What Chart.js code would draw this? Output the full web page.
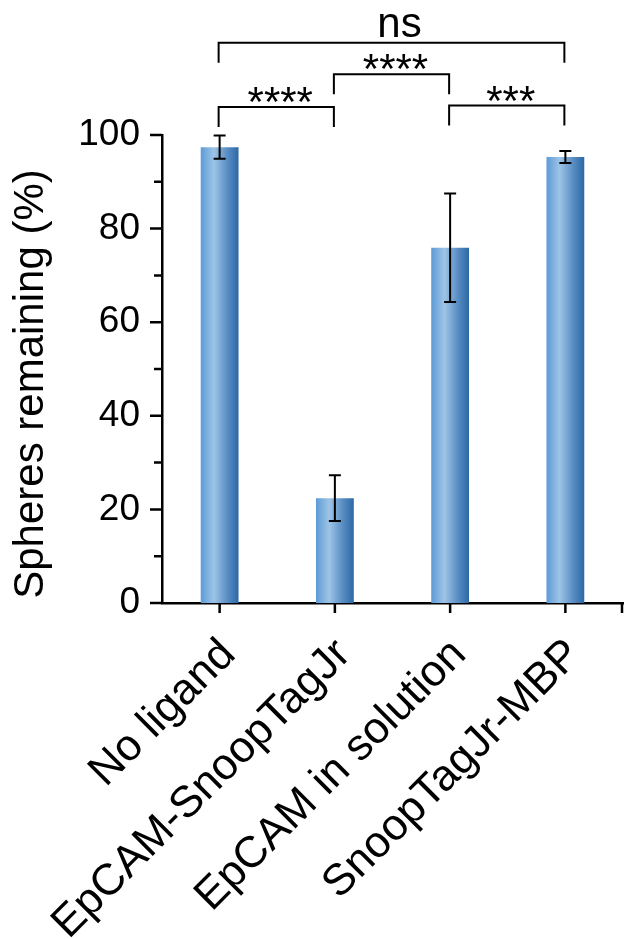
<!DOCTYPE html>
<html>
<head>
<meta charset="utf-8">
<script src="https://cdn.jsdelivr.net/npm/chart.js@4.4.1/dist/chart.umd.min.js"></script>
<style>
body{margin:0;background:#fff;}
#wrap{width:625px;height:939px;position:relative;}
</style>
</head>
<body>
<div id="wrap"><canvas id="myChart"></canvas></div>
<script>
// datos
var categorias = ["No ligand", "EpCAM-SnoopTagJr", "EpCAM in solution", "SnoopTagJr-MBP"];
var medias = [97.4, 22.4, 75.9, 95.3];
var errores = [2.5, 4.9, 11.6, 1.3];
var yTicks = [0, 20, 40, 60, 80, 100];
var yMinor = [10, 30, 50, 70, 90];
var tituloY = "Spheres remaining (%)";
// brackets de significancia
var bracketDesde = [0, 1, 2, 0];
var bracketHasta = [1, 2, 3, 3];
var bracketNivel = [106.0, 113.0, 106.3, 119.7];
var bracketTexto = ["****", "****", "***", "ns"];

var fuente = "'Liberation Sans', Arial, sans-serif";

function gradiente(context){
    var chart = context.chart;
    var x = chart.scales.x;
    if (!chart.chartArea || !x || context.dataIndex === undefined) {
        return '#5b9bd5';
    }
    var centro = x.getPixelForValue(context.dataIndex);
    var ancho = (x.width / categorias.length) * 0.328;
    var g = chart.ctx.createLinearGradient(centro - ancho / 2, 0, centro + ancho / 2, 0);
    g.addColorStop(0, 'rgb(93,155,214)');
    g.addColorStop(0.35, 'rgb(158,196,230)');
    g.addColorStop(0.7, 'rgb(90,142,196)');
    g.addColorStop(1, 'rgb(44,104,164)');
    return g;
}

var extras = {
    id: 'extras',
    afterDraw: function(chart){
        var ctx = chart.ctx;
        var x = chart.scales.x;
        var y = chart.scales.y;
        var area = chart.chartArea;
        ctx.save();
        ctx.strokeStyle = '#000';
        ctx.lineCap = 'butt';

        // barras de error
        ctx.lineWidth = 2;
        for (var i = 0; i < medias.length; i++){
            var px = x.getPixelForValue(i);
            var arriba = y.getPixelForValue(medias[i] + errores[i]);
            var abajo = y.getPixelForValue(medias[i] - errores[i]);
            ctx.beginPath();
            ctx.moveTo(px, arriba); ctx.lineTo(px, abajo);
            ctx.moveTo(px - 6, arriba); ctx.lineTo(px + 6, arriba);
            ctx.moveTo(px - 6, abajo); ctx.lineTo(px + 6, abajo);
            ctx.stroke();
        }

        // ticks del eje y
        ctx.lineWidth = 2.5;
        ctx.beginPath();
        for (var a = 0; a < yTicks.length; a++){
            var py = y.getPixelForValue(yTicks[a]);
            ctx.moveTo(area.left - 12, py); ctx.lineTo(area.left, py);
        }
        for (var b = 0; b < yMinor.length; b++){
            var pm = y.getPixelForValue(yMinor[b]);
            ctx.moveTo(area.left - 8, pm); ctx.lineTo(area.left, pm);
        }
        // ticks del eje x
        for (var c = 0; c < categorias.length; c++){
            var pc = x.getPixelForValue(c);
            ctx.moveTo(pc, area.bottom); ctx.lineTo(pc, area.bottom + 10);
        }
        ctx.moveTo(area.right - 1, area.bottom); ctx.lineTo(area.right - 1, area.bottom + 10);
        ctx.stroke();

        // brackets
        ctx.lineWidth = 2;
        ctx.fillStyle = '#000';
        ctx.textAlign = 'center';
        ctx.textBaseline = 'alphabetic';
        for (var k = 0; k < bracketNivel.length; k++){
            var x1 = x.getPixelForValue(bracketDesde[k]) - 1;
            var x2 = x.getPixelForValue(bracketHasta[k]) - 1;
            var yl = y.getPixelForValue(bracketNivel[k]);
            ctx.beginPath();
            ctx.moveTo(x1, yl + 20); ctx.lineTo(x1, yl); ctx.lineTo(x2, yl); ctx.lineTo(x2, yl + 20);
            ctx.stroke();
            ctx.font = '42px ' + fuente;
            if (bracketTexto[k] == 'ns'){
                ctx.fillText(bracketTexto[k], (x1 + x2) / 2 + 8, yl - 6);
            } else {
                ctx.fillText(bracketTexto[k], (x1 + x2) / 2 + 4, yl + 9);
            }
        }

        // titulo del eje y
        ctx.translate(43, (y.top + y.bottom) / 2 + 15);
        ctx.rotate(-Math.PI / 2);
        ctx.font = '42px ' + fuente;
        ctx.textAlign = 'center';
        ctx.fillText(tituloY, 0, 0);
        ctx.restore();
    }
};

var ctx = document.getElementById('myChart');
var myChart = new Chart(ctx, {
    type: 'bar',
    data: {
        labels: categorias,
        datasets: [{
            data: medias,
            backgroundColor: gradiente,
            borderWidth: 0,
            categoryPercentage: 1,
            barPercentage: 0.328
        }]
    },
    options: {
        responsive: true,
        maintainAspectRatio: false,
        animation: false,
        layout: {
            padding: {top: 135, left: 4, right: 2, bottom: 0}
        },
        plugins: {
            legend: {display: false},
            tooltip: {enabled: false}
        },
        scales: {
            x: {
                afterFit: function(axis){
                    axis.height = 336;
                    axis.paddingLeft = 0;
                    axis.paddingRight = 0;
                },
                grid: {display: false, drawTicks: false},
                border: {display: true, color: '#000', width: 2.5},
                ticks: {
                    autoSkip: false,
                    minRotation: 45,
                    maxRotation: 45,
                    padding: 26,
                    labelOffset: 9,
                    color: '#000',
                    font: {family: fuente, size: 44}
                }
            },
            y: {
                min: 0,
                max: 100,
                afterBuildTicks: function(axis){
                    axis.ticks = yTicks.map(function(v){ return {value: v}; });
                },
                afterFit: function(axis){ axis.width = 158; },
                grid: {display: false, drawTicks: false},
                border: {display: true, color: '#000', width: 2.5},
                ticks: {
                    padding: 22,
                    color: '#000',
                    font: {family: fuente, size: 37}
                }
            }
        }
    },
    plugins: [extras]
});
</script>
</body>
</html>
